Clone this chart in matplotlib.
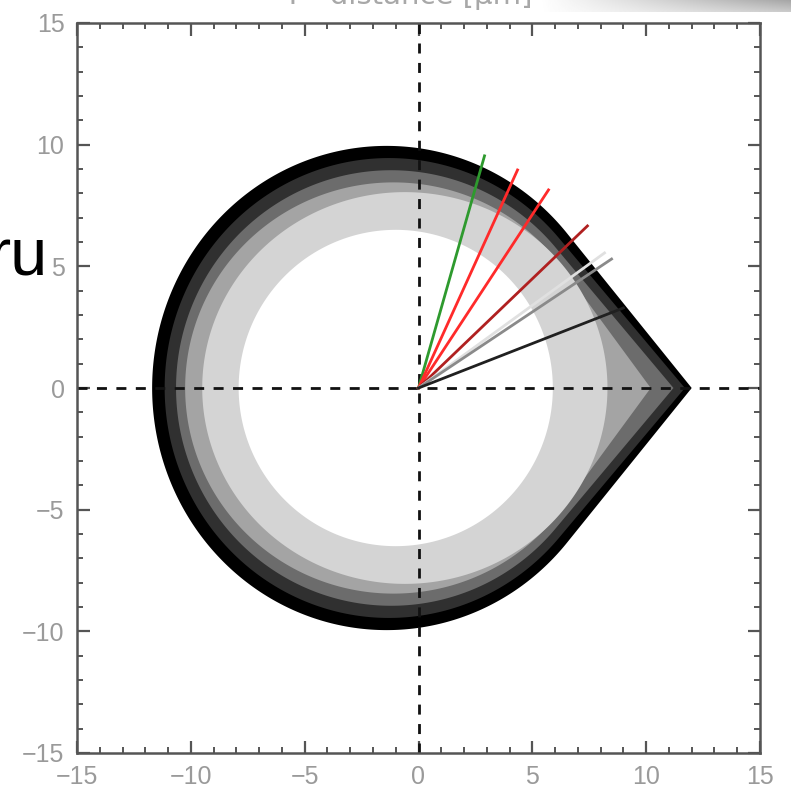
import numpy as np
import matplotlib.pyplot as plt
from matplotlib.ticker import MultipleLocator

# nested shells: ellipse (centre, half-axes) hulled with a tip on the +x axis
shell_colors = ["#000000", "#303030", "#6c6c6c", "#a4a4a4", "#d4d4d4", "#ffffff"]
shell_cx = [-1.4, -1.3, -1.2, -1.1, -0.6, -1.0]
shell_a = [10.3, 9.85, 9.45, 9.15, 8.9, 6.9]
shell_b = [9.95, 9.45, 8.95, 8.45, 8.05, 6.5]
shell_tip = [12.0, 11.7, 11.2, 10.2, None, None]

# rays from the origin
ray_x = [2.90, 4.35, 5.71, 7.42, 8.17, 8.48, 9.00]
ray_y = [9.54, 8.96, 8.14, 6.66, 5.55, 5.30, 3.29]
ray_colors = ["#2e9a2e", "#ff2a2a", "#ff2a2a", "#b02020", "#e0e0e0", "#8a8a8a", "#202020"]


def hull(pts):
    # monotone chain convex hull
    pts = sorted(map(tuple, pts))

    def cross(o, a, b):
        return (a[0] - o[0]) * (b[1] - o[1]) - (a[1] - o[1]) * (b[0] - o[0])

    lower, upper = [], []
    for p in pts:
        while len(lower) >= 2 and cross(lower[-2], lower[-1], p) <= 0:
            lower.pop()
        lower.append(p)
    for p in reversed(pts):
        while len(upper) >= 2 and cross(upper[-2], upper[-1], p) <= 0:
            upper.pop()
        upper.append(p)
    return np.array(lower[:-1] + upper[:-1])


def shell(cx, a, b, tip, n=500):
    t = np.linspace(0, 2 * np.pi, n, endpoint=False)
    pts = np.column_stack([cx + a * np.cos(t), b * np.sin(t)])
    if tip is not None:
        pts = np.vstack([pts, [tip, 0.0]])
    return hull(pts)


fig = plt.figure(figsize=(7.91, 7.93), dpi=100)
ax = fig.add_axes([77 / 791, 40 / 793, 683 / 791, 730 / 793])

for c, cx, a, b, tip in zip(shell_colors, shell_cx, shell_a, shell_b, shell_tip):
    p = shell(cx, a, b, tip)
    ax.fill(p[:, 0], p[:, 1], color=c, lw=0, zorder=1)

ax.axhline(0, color="#111111", lw=2, ls=(0, (3.6, 3.4)), zorder=2)
ax.axvline(0, color="#111111", lw=2, ls=(0, (3.6, 3.4)), zorder=2)

for x, y, c in zip(ray_x, ray_y, ray_colors):
    ax.plot([0, x], [0, y], color=c, lw=2, zorder=3)

ax.set_xlim(-15, 15)
ax.set_ylim(-15, 15)
for sp in ax.spines.values():
    sp.set_color("#555555")
    sp.set_linewidth(1.8)
ax.xaxis.set_major_locator(MultipleLocator(5))
ax.yaxis.set_major_locator(MultipleLocator(5))
ax.xaxis.set_minor_locator(MultipleLocator(1))
ax.yaxis.set_minor_locator(MultipleLocator(1))
ax.tick_params(which="both", direction="in", top=True, right=True, color="#555555")
ax.tick_params(which="major", length=9, width=1.6, pad=9, labelsize=18, labelcolor="#9a9a9a")
ax.tick_params(which="minor", length=4.5, width=1.4)
for lab in ax.get_xticklabels() + ax.get_yticklabels():
    lab.set_family(["Liberation Sans Narrow", "Liberation Sans", "DejaVu Sans"])

# axis title, mostly cut off by the top edge
fig.text(0.515, 1.0 - 4 / 793, "Y - distance [\u03bcm]", ha="center", va="baseline",
         fontsize=21, color="#a8a8a8", family=["Liberation Sans Narrow", "DejaVu Sans"])

# shaded strip along the top right
strip = fig.add_axes([540 / 791, 1 - 12 / 793, 251 / 791, 12 / 793])
g = np.linspace(0, 1, 256)
shade = 1 - 0.35 * np.outer(np.linspace(1, 0.6, 12), g)
strip.imshow(shade, cmap="gray", vmin=0, vmax=1, aspect="auto")
strip.axis("off")

fig.text(48 / 791, 1 - 275 / 793, "ru", ha="right", va="baseline", fontsize=48,
         color="black", family="Liberation Sans")

fig.savefig("out.png", dpi=100)
